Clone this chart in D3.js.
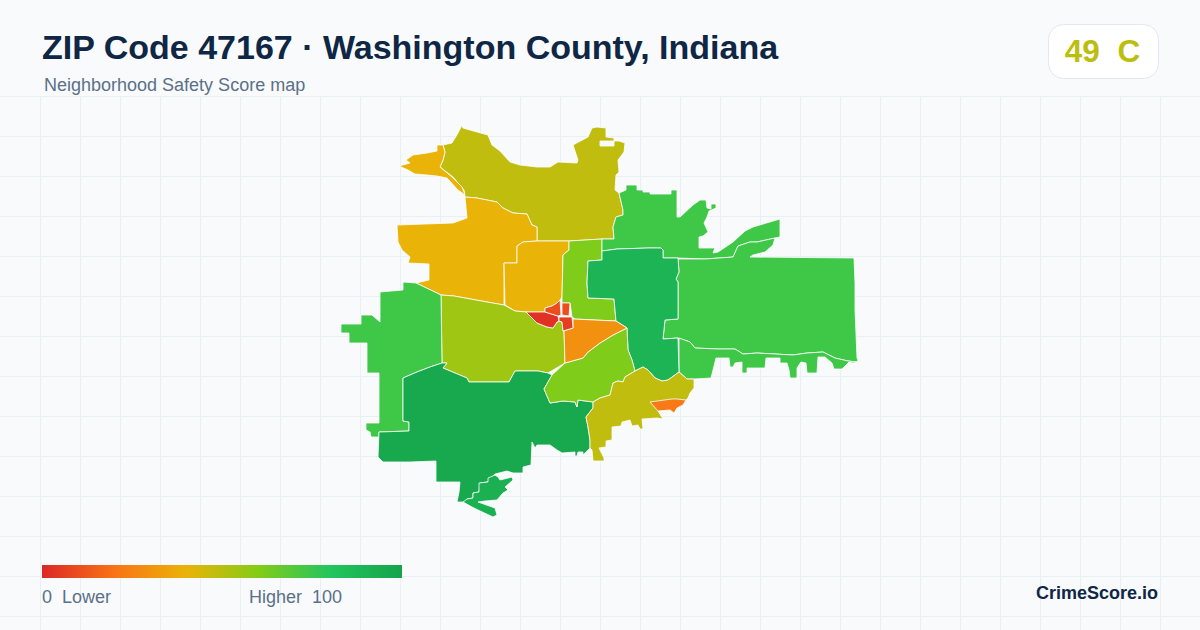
<!DOCTYPE html>
<html>
<head>
<meta charset="utf-8">
<title>ZIP Code 47167</title>
<script src="https://cdn.jsdelivr.net/npm/d3@7"></script>
<style>
  html, body { margin: 0; padding: 0; background: #f8fafc; }
  svg { display: block; }
  text { font-family: "Liberation Sans", Arial, sans-serif; white-space: pre; }
</style>
</head>
<body>
<div id="chart"></div>
<script>
// tract outlines
const nwSliver = [[437,145],[443,145],[445,152],[443,160],[440,167],[452,177],[462,187],[465,195],[458,190],[447,178],[437,176],[427,175],[415,174],[408,170],[399,166],[410,163],[406,160],[413,155],[427,153],[437,151]];
const north = [[462,125],[463,128],[477,132],[488,135],[492,145],[500,151],[510,162],[520,165],[537,167],[550,167],[558,162],[577,163],[578,160],[573,145],[588,137],[592,128],[597,127],[606,128],[606,137],[614,138],[614,141],[619,141],[625,143],[624,152],[618,160],[619,172],[616,175],[615,190],[619,193],[623,210],[623,215],[616,217],[613,227],[614,239],[602,239],[569,241],[537,241],[537,227],[532,225],[527,214],[513,213],[503,208],[497,202],[477,198],[465,197],[464,190],[453,177],[440,167],[443,160],[445,152],[443,145],[452,143],[458,133]];
const northHole = [[600,141],[614,141],[614,146],[600,146]];
const westAmber = [[465,197],[477,198],[497,202],[503,208],[513,213],[527,214],[532,225],[537,227],[537,241],[523,242],[517,246],[517,263],[504,263],[504,305],[487,302],[454,296],[441,295],[416,283],[429,280],[429,264],[408,263],[410,257],[402,250],[398,242],[397,225],[453,223],[467,218]];
const centerAmber = [[504,263],[517,263],[517,246],[523,242],[537,241],[569,241],[569,250],[563,255],[562,297],[560,300],[557,303],[552,306],[545,308],[545,312],[526,312],[515,311],[505,305]];
const northLime = [[569,241],[602,239],[602,260],[588,261],[587,283],[588,298],[614,299],[616,321],[575,319],[572,317],[570,303],[562,303],[562,297],[563,255],[569,250]];
const westLime = [[441,295],[454,296],[487,302],[504,305],[515,311],[526,312],[537,323],[547,327],[553,328],[557,322],[559,321],[562,322],[563,331],[564,331],[565,363],[548,373],[538,371],[515,371],[509,382],[469,382],[467,378],[455,373],[443,368],[447,363],[442,363]];
const westGreen = [[403,282],[416,283],[441,295],[442,363],[430,367],[417,372],[403,378],[403,421],[409,422],[409,431],[379,432],[379,437],[371,437],[370,432],[366,430],[366,423],[379,423],[379,373],[367,373],[367,343],[349,343],[349,333],[341,333],[341,324],[361,324],[361,315],[372,315],[380,322],[380,292],[403,290]];
const south = [[403,378],[417,372],[430,367],[442,363],[447,363],[443,368],[455,373],[467,378],[469,382],[509,382],[515,371],[538,371],[548,373],[552,375],[544,389],[550,403],[563,401],[575,402],[577,407],[578,400],[593,402],[593,408],[586,417],[588,427],[590,440],[590,448],[583,455],[583,452],[578,452],[577,456],[575,456],[575,452],[562,453],[557,450],[550,445],[537,445],[535,448],[532,442],[531,465],[523,467],[523,473],[513,473],[507,471],[495,474],[487,482],[480,483],[479,492],[473,493],[473,498],[467,499],[467,503],[463,502],[457,502],[459,492],[460,482],[436,482],[436,461],[410,462],[383,462],[378,457],[379,432],[409,431],[409,422],[403,421]];
const southIsland = [[488,478],[495,475],[498,477],[500,480],[512,477],[513,480],[505,487],[508,490],[503,493],[497,500],[485,501],[478,502],[495,508],[497,515],[493,517],[478,510],[472,507],[463,502],[467,499],[473,498],[473,493],[479,492],[479,483],[488,482]];
const northEast = [[626,190],[626,185],[637,185],[637,190],[643,190],[643,192],[650,192],[650,194],[671,194],[671,190],[677,190],[677,217],[680,217],[693,205],[700,200],[706,200],[707,208],[711,209],[711,204],[716,204],[716,208],[709,211],[707,217],[704,223],[708,232],[703,236],[699,237],[699,248],[715,248],[713,253],[718,252],[733,242],[745,231],[753,227],[780,219],[780,237],[775,238],[757,242],[750,242],[738,246],[733,257],[705,259],[678,258],[663,258],[663,250],[661,248],[648,248],[617,249],[602,251],[602,239],[614,239],[613,227],[616,217],[623,215],[623,210],[619,193]];
const east = [[678,259],[705,259],[733,257],[738,246],[750,242],[757,242],[775,238],[773,245],[765,252],[753,255],[750,257],[854,258],[855,283],[855,310],[857,358],[858,360],[857,362],[848,361],[835,358],[823,352],[807,353],[793,355],[757,353],[743,354],[735,349],[718,349],[695,348],[690,342],[678,338],[663,339],[665,320],[678,319],[678,282],[676,279],[679,272]];
const eastStrip = [[679,338],[690,342],[695,348],[718,349],[735,349],[743,354],[757,353],[793,355],[807,353],[823,352],[835,358],[848,361],[857,362],[853,363],[849,362],[842,369],[834,369],[832,363],[825,357],[818,357],[817,373],[807,373],[806,363],[801,362],[797,368],[797,378],[790,378],[789,370],[787,363],[780,363],[780,358],[766,358],[765,368],[747,368],[747,373],[742,373],[742,362],[735,363],[733,367],[730,367],[729,358],[716,358],[713,370],[711,378],[694,379],[687,379],[679,372]];
const innerNorthEast = [[602,251],[617,249],[648,248],[661,248],[663,250],[663,258],[678,258],[679,272],[676,279],[678,282],[678,319],[665,320],[663,339],[678,338],[679,372],[668,380],[662,381],[655,378],[648,370],[643,367],[635,371],[632,360],[628,350],[627,328],[616,321],[614,299],[588,298],[587,283],[588,261],[602,260]];
const southLime = [[627,328],[628,350],[632,360],[635,371],[625,377],[623,382],[618,381],[613,383],[610,395],[600,398],[593,402],[578,400],[577,407],[575,402],[563,401],[550,403],[544,389],[552,375],[565,363],[583,358],[588,352],[600,343],[613,335]];
const southEast = [[679,372],[687,379],[694,379],[694,388],[690,393],[688,398],[686,400],[677,408],[674,413],[670,410],[658,411],[663,419],[657,418],[642,419],[643,429],[640,429],[638,425],[632,426],[630,420],[622,422],[621,426],[612,427],[612,440],[606,441],[606,447],[599,448],[604,458],[604,461],[593,461],[592,450],[590,448],[590,440],[588,427],[586,417],[593,408],[593,402],[600,398],[610,395],[613,383],[618,381],[623,382],[625,377],[635,371],[643,367],[648,370],[655,378],[662,381],[668,380]];
const southEastOrange = [[650,402],[672,399],[677,399],[686,400],[683,405],[677,408],[674,413],[670,410],[658,411]];
const townOrange = [[573,319],[616,321],[627,328],[613,335],[600,343],[588,352],[583,358],[565,363],[564,331],[573,328]];
const townWest = [[526,312],[545,312],[558,316],[559,321],[557,322],[553,328],[547,327],[537,323]];
const townNorth = [[545,308],[552,306],[557,303],[560,300],[561,315],[558,316],[545,312]];
const townEast = [[562,303],[570,303],[569,316],[562,315]];
const townSouth = [[559,317],[572,317],[573,328],[563,331],[562,322],[559,321]];

const tractRings = [[north, northHole], [nwSliver], [westAmber], [centerAmber], [northLime], [westLime], [westGreen], [south], [southIsland], [northEast], [east], [eastStrip], [innerNorthEast], [southLime], [southEast], [southEastOrange], [townOrange], [townWest], [townNorth], [townEast], [townSouth]];
const tractScores = [48, 40, 40, 40, 61, 55, 74, 97, 92, 74, 74, 74, 90, 61, 48, 22, 29, 3, 10, 10, 6];

const scoreStops = [0, 20, 40, 60, 80, 100];
const stopColors = ['#dc2626', '#f97316', '#eab308', '#84cc16', '#22c55e', '#16a34a'];
const overallScore = 49;
const overallGrade = 'C';

const svgWidth = 1200;
const svgHeight = 630;

const color = d3.scaleLinear().domain(scoreStops).range(stopColors);

const svg = d3.select('#chart').append('svg')
    .attr('width', svgWidth)
    .attr('height', svgHeight);

svg.append('rect')
    .attr('width', svgWidth)
    .attr('height', svgHeight)
    .attr('fill', '#f8fafc');

// grid, starts under the header
const gridTop = 96.5;
const grid = svg.append('g').attr('stroke', '#e9f0f5').attr('stroke-width', 1);
d3.range(40.5, svgWidth, 40).forEach(function (x) {
    grid.append('line').attr('x1', x).attr('x2', x).attr('y1', gridTop).attr('y2', svgHeight);
});
d3.range(gridTop, svgHeight, 40).forEach(function (y) {
    grid.append('line').attr('x1', 0).attr('x2', svgWidth).attr('y1', y).attr('y2', y);
});

// map. geoPath wants closed rings
const path = d3.geoPath(d3.geoIdentity());
const closeRing = function (ring) { return ring.concat([ring[0]]); };

svg.append('g').selectAll('path')
    .data(tractRings.map(function (rings, i) {
        return { type: 'Feature', properties: { score: tractScores[i] }, geometry: { type: 'Polygon', coordinates: rings.map(closeRing) } };
    }))
    .enter().append('path')
    .attr('d', path)
    .attr('fill', function (d) { return color(d.properties.score); })
    .attr('fill-rule', 'evenodd')
    .attr('stroke', '#ffffff')
    .attr('stroke-width', 0.8)
    .attr('stroke-linejoin', 'round');

// header
svg.append('text')
    .attr('x', 42).attr('y', 59)
    .attr('font-size', 34).attr('font-weight', 700)
    .attr('fill', '#0f2744')
    .text('ZIP Code 47167 · Washington County, Indiana');

svg.append('text')
    .attr('x', 44).attr('y', 91)
    .attr('font-size', 18)
    .attr('fill', '#5b7089')
    .text('Neighborhood Safety Score map');

svg.append('rect')
    .attr('x', 1048.5).attr('y', 24.5)
    .attr('width', 110).attr('height', 54)
    .attr('rx', 15)
    .attr('fill', '#ffffff')
    .attr('stroke', '#e2e8f0');

svg.append('text')
    .attr('x', 1102.5).attr('y', 62)
    .attr('text-anchor', 'middle')
    .attr('font-size', 31.5).attr('font-weight', 700)
    .attr('fill', color(overallScore))
    .text(overallScore + '  ' + overallGrade);

// legend
const defs = svg.append('defs');
const gradient = defs.append('linearGradient').attr('id', 'legend-gradient');
scoreStops.forEach(function (s, i) {
    gradient.append('stop').attr('offset', s + '%').attr('stop-color', stopColors[i]);
});

svg.append('rect')
    .attr('x', 42).attr('y', 565)
    .attr('width', 360).attr('height', 13)
    .attr('fill', 'url(#legend-gradient)');

svg.append('text')
    .attr('x', 42).attr('y', 603)
    .attr('font-size', 18).attr('fill', '#5b7089')
    .text('0  Lower');

svg.append('text')
    .attr('x', 249).attr('y', 603)
    .attr('font-size', 18).attr('fill', '#5b7089')
    .text('Higher  100');

svg.append('text')
    .attr('x', 1158).attr('y', 599)
    .attr('text-anchor', 'end')
    .attr('font-size', 18).attr('font-weight', 700)
    .attr('fill', '#0f2744')
    .text('CrimeScore.io');
</script>
</body>
</html>
